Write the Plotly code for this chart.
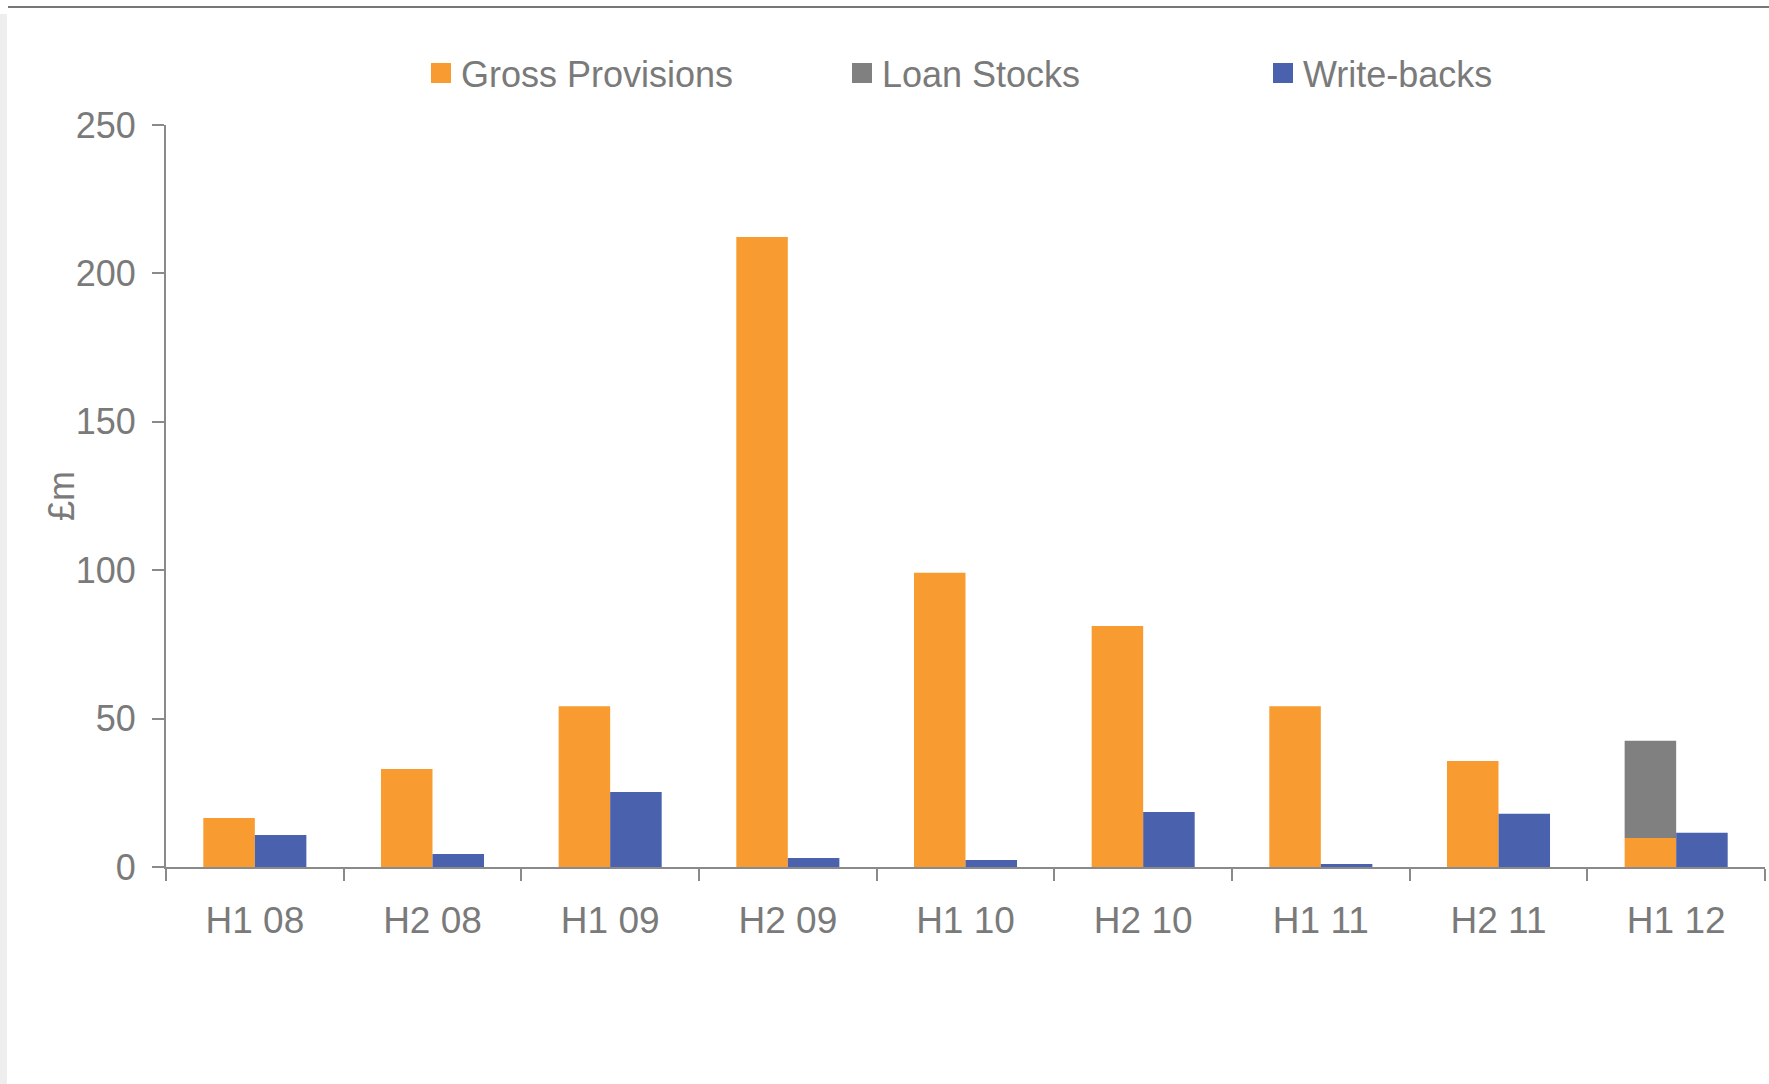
import plotly.graph_objects as go

categories = ["H1 08", "H2 08", "H1 09", "H2 09", "H1 10", "H2 10", "H1 11", "H2 11", "H1 12"]
gross_provisions = [16.5, 33.0, 54.2, 212.3, 99.1, 81.2, 54.2, 35.7, 9.8]
loan_stocks = [0, 0, 0, 0, 0, 0, 0, 0, 32.7]
write_backs = [10.8, 4.4, 25.3, 3.0, 2.4, 18.5, 1.0, 17.9, 11.5]
y_ticks = [0, 50, 100, 150, 200, 250]

ORANGE = "#F89C31"
GREY = "#808080"
BLUE = "#4A62AD"
TEXT = "#7a7a7a"
AXIS = "#8a8a8a"

W, H = 1769, 1084
ML, MR, MT, MB = 166, 4, 125, 217
PW, PH = W - ML - MR, H - MT - MB


def px_x(p):
    return (p - ML) / PW


def px_y(p):
    return (H - MB - p) / PH


fig = go.Figure()
fig.add_trace(go.Bar(x=categories, y=gross_provisions, name="Gross Provisions",
                     marker=dict(color=ORANGE, line=dict(width=0)),
                     offsetgroup="a", showlegend=False))
fig.add_trace(go.Bar(x=categories, y=loan_stocks, base=gross_provisions, name="Loan Stocks",
                     marker=dict(color=GREY, line=dict(width=0)),
                     offsetgroup="a", showlegend=False))
fig.add_trace(go.Bar(x=categories, y=write_backs, name="Write-backs",
                     marker=dict(color=BLUE, line=dict(width=0)),
                     offsetgroup="b", showlegend=False))

# legend entries (square swatches)
for name, col in [("Gross Provisions", ORANGE), ("Loan Stocks", GREY), ("Write-backs", BLUE)]:
    fig.add_trace(go.Scatter(x=[None], y=[None], mode="markers", name=name,
                             marker=dict(symbol="square", size=16, color=col,
                                         line=dict(width=4, color=col)),
                             hoverinfo="skip"))

fig.update_layout(
    width=W, height=H,
    margin=dict(l=ML, r=MR, t=MT, b=MB, pad=0),
    paper_bgcolor="white", plot_bgcolor="white",
    barmode="group", bargap=0.42, bargroupgap=0,
    font=dict(family="Liberation Sans, Arial, sans-serif", color=TEXT, size=36),
    legend=dict(orientation="h", x=px_x(421), xanchor="left", y=px_y(73), yanchor="middle",
                font=dict(size=36, color=TEXT), entrywidth=376, entrywidthmode="pixels",
                bgcolor="rgba(0,0,0,0)", traceorder="normal"),
    showlegend=True,
)

fig.update_xaxes(
    type="category", categoryorder="array", categoryarray=categories,
    showline=True, linecolor=AXIS, linewidth=2,
    ticks="outside", tickson="boundaries", ticklen=12, tickwidth=2, tickcolor=AXIS,
    tickfont=dict(size=37, color=TEXT), ticklabelstandoff=20,
    showgrid=False, zeroline=False, fixedrange=True,
)
fig.update_yaxes(
    range=[0, 250], tickvals=y_ticks, ticktext=[str(v) for v in y_ticks],
    showline=True, linecolor=AXIS, linewidth=2,
    ticks="outside", ticklen=12, tickwidth=2, tickcolor=AXIS,
    tickfont=dict(size=36, color=TEXT), ticklabelstandoff=9,
    showgrid=False, zeroline=False,
)

# y-axis unit label
fig.add_annotation(text="£m", xref="paper", yref="paper", x=px_x(61), y=px_y(496),
                   xanchor="center", yanchor="middle", textangle=-90, showarrow=False,
                   font=dict(size=36, color=TEXT))

# page frame decorations: top rule and left grey strip
fig.add_shape(type="rect", xref="paper", yref="paper",
              x0=px_x(0), x1=px_x(7), y0=px_y(H), y1=px_y(14),
              fillcolor="#eeeeee", line=dict(width=0), layer="below")
fig.add_shape(type="line", xref="paper", yref="paper",
              x0=px_x(8), x1=px_x(W), y0=px_y(7), y1=px_y(7),
              line=dict(color="#777777", width=2))

fig.write_html("out.html", config={"displayModeBar": False},
               post_script="document.body.style.margin='0';document.body.style.overflow='hidden';")
